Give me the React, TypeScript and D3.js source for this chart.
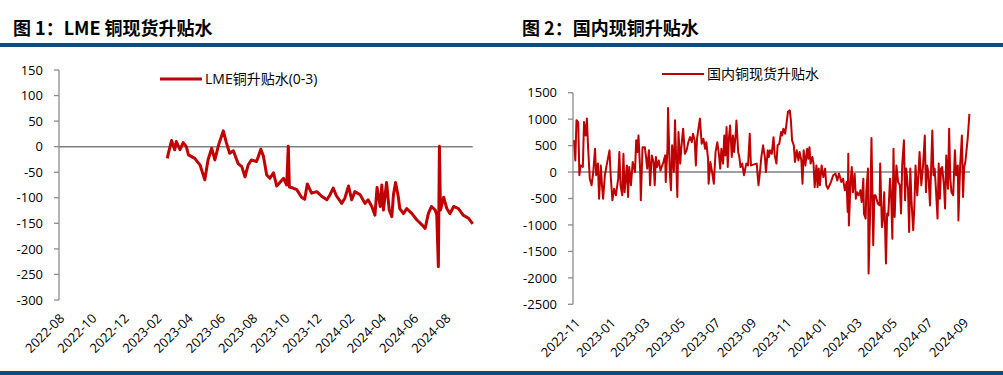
import React, { useEffect, useRef } from 'react';
import * as d3 from 'd3';

// 图1 LME铜升贴水(0-3)
const lmeDates = [
  '2023-02-22', '2023-02-24', '2023-03-02', '2023-03-08', '2023-03-11', '2023-03-18', '2023-03-24', '2023-03-30',
  '2023-04-03', '2023-04-15', '2023-04-25', '2023-05-04', '2023-05-10', '2023-05-17', '2023-05-23', '2023-05-30',
  '2023-06-08', '2023-06-14', '2023-06-20', '2023-06-27', '2023-07-06', '2023-07-13', '2023-07-19', '2023-07-25',
  '2023-07-31', '2023-08-10', '2023-08-18', '2023-08-23', '2023-08-29', '2023-09-04', '2023-09-11', '2023-09-17',
  '2023-09-23', '2023-09-30', '2023-10-06', '2023-10-09', '2023-10-11', '2023-10-18', '2023-10-25', '2023-11-03',
  '2023-11-09', '2023-11-14', '2023-11-22', '2023-12-02', '2023-12-11', '2023-12-21', '2023-12-27', '2024-01-02',
  '2024-01-08', '2024-01-18', '2024-01-24', '2024-01-31', '2024-02-06', '2024-02-12', '2024-02-22', '2024-03-02',
  '2024-03-08', '2024-03-15', '2024-03-21', '2024-03-25', '2024-03-31', '2024-04-03', '2024-04-06', '2024-04-12',
  '2024-04-17', '2024-04-22', '2024-04-25', '2024-04-29', '2024-05-04', '2024-05-07', '2024-05-14', '2024-05-20',
  '2024-05-30', '2024-06-08', '2024-06-18', '2024-06-24', '2024-06-30', '2024-07-06', '2024-07-13', '2024-07-16',
  '2024-07-19', '2024-07-21', '2024-07-23', '2024-07-29', '2024-08-04', '2024-08-10', '2024-08-17', '2024-08-26',
  '2024-09-04', '2024-09-14', '2024-09-22',
];
const lmeValues = [
  -23, -13, 12, -6, 10, -6, 8, 0,
  -16, -23, -36, -65, -26, -3, -26, 3,
  31, 7, -13, -8, -33, -39, -59, -36,
  -26, -29, -5, -19, -55, -62, -51, -77,
  -70, -62, -75, 1, -79, -81, -84, -99,
  -103, -73, -91, -88, -97, -104, -94, -81,
  -96, -111, -101, -77, -104, -88, -94, -111,
  -104, -117, -134, -80, -117, -75, -124, -70,
  -124, -137, -94, -70, -97, -121, -131, -121,
  -131, -143, -153, -160, -131, -117, -124, -134,
  -235, 1, -124, -99, -121, -131, -117, -121,
  -134, -140, -151,
];
const lmeTicks = ['2022-08', '2022-10', '2022-12', '2023-02', '2023-04', '2023-06', '2023-08', '2023-10', '2023-12', '2024-02', '2024-04', '2024-06', '2024-08'];
const lmeYTicks = [150, 100, 50, 0, -50, -100, -150, -200, -250, -300];

// 图2 国内现铜升贴水 (days counted from cnStart)
const cnStart = '2022-10-29';
const cnDays = [
  2, 4, 6, 9, 11, 13, 17, 19, 22, 24, 26, 29, 32, 35, 38, 40, 43, 45, 48, 50, 52, 55, 58, 63, 65, 68, 71, 74, 78, 80,
  82, 85, 87, 89, 93, 95, 97, 100, 103, 107, 109, 111, 113, 116, 117, 120, 124, 126, 128, 131, 133, 136, 139, 141, 143,
  145, 148, 151, 156, 159, 160, 163, 164, 167, 169, 171, 174, 176, 179, 180, 182, 185, 187, 190, 193, 196, 199, 202, 205,
  207, 210, 212, 214, 216, 219, 222, 225, 228, 230, 233,
  234, 237, 240, 243, 246, 249, 252, 254, 256, 259, 261, 263, 265, 267, 269, 271, 274, 276, 278, 281, 282, 285, 287, 289,
  292, 295, 299, 302, 305, 307, 311, 317, 320, 322, 325, 328, 331, 333, 336, 338, 340, 343, 346, 348, 351, 353, 356, 359,
  361, 363, 366, 368, 371, 374, 376, 378, 381, 383, 386, 389, 391, 394, 396, 398, 401, 404, 406, 408, 410, 413, 415, 417,
  420, 422, 424, 426, 429, 432, 435, 437, 440, 445, 449, 453, 456, 459,
  463, 466, 469, 472, 474, 475, 476, 479, 481, 483, 486, 488, 490, 493, 496, 498, 501, 502, 505, 506, 509, 510, 513, 515,
  518, 520, 522, 526, 529, 530, 533, 535, 537, 540, 542, 544, 547, 549, 551, 553, 555, 558, 561, 564, 566, 568, 571, 573,
  575, 578, 580, 582, 584, 587, 589, 591, 594, 596, 598, 601, 604, 607, 609, 611, 613, 616, 618, 620, 622, 624, 626, 629,
  631, 633, 635, 637, 640, 642, 644, 647, 649, 651, 653, 656, 659, 661, 664, 665, 668, 671, 673, 675, 677, 681, 684,
];
const cnValues = [
  600, 220, 980, 945, -60, 125, 95, 945, 690, 1010, 470, -125, -250, 0, 440, -60, 160, -505, 125, -250, -505, -60, 125, 410, -60, -535, -315, -440, -125, 380,
  -250, -440, 345, -380, 125, -470, 95, -250, 190, 0, 600, 380, 690, 0, -535, 470, 470, 285, 65, 410, -250, 315, 190, -250, 285,
  95, 220, 30, 190, 315, -190, 440, 1210, 0, -345, 505, 0, 980, -125, -470, 755, 160, 470, 820, 345, 410, 565, 660, 565,
  725, 600, 125, 630, 785, 1010, 535, 630, 440, 565, 250,
  -220, 190, 0, -220, 380, 565, 315, 65, 440, 160, 690, 315, 850, 95, 630, 880, 285, 690, 380, 755, 975, 380, 285, 95,
  160, -60, 160, 125, 725, 125, 140, 160, -250, -60, 285, 505, 285, 0, 410, 285, 410, 345, 660, 315, 160, 505, 535, 755,
  690, 820, 725, 880, 1145, 1165, 975, 600, 505, 190, 410, 220, 380, 220, -220, 410, 125, 440, 250, 470, 160, 285, 160, -285,
  125, -285, 65, -250, 125, -95, 65, -250, -315, -190, -60, -30, -160, -30,
  -190, -125, -345, -190, -755, 345, -1010, -190, 95, -380, -30, -505, -380, -440, -345, -565, -125, -785, -880, -380, 65, -1920, -630, 645,
  -1385, -440, -440, -600, -630, 160, -1040, -880, -380, -1730, -785, -820, -125, -470, -1260, 440, -850, 125, -190, -250, -785, 125, 600, -535,
  65, -315, -1135, 65, -535, -1100, -660, 125, -440, -60, 380, -250, 125, 690, -380, 125, 0, -630, 95, 785, -60, 65, -285, -880,
  160, -505, 65, 95, -250, -690, 315, -315, 820, -125, -380, -440, 410, -60, 125, -915, 125, 690, -470, 95, 190, 630, 1100,
];
const cnTicks = ['2022-11', '2023-01', '2023-03', '2023-05', '2023-07', '2023-09', '2023-11', '2024-01', '2024-03', '2024-05', '2024-07', '2024-09'];
const cnYTicks = [1500, 1000, 500, 0, -500, -1000, -1500, -2000, -2500];

const RED = '#c00000';
const GRAY = '#8c8c8c';
const TICK_FONT = '"Open Sans", "Noto Sans CJK SC", sans-serif';
const parseDay = d3.timeParse('%Y-%m-%d');
const parseMonth = d3.timeParse('%Y-%m');

const drawPanel = (svg, p) => {
  const x = d3.scaleTime().domain(p.xDomain).range([p.x0, p.x1]);
  const y = d3.scaleLinear().domain([p.yTicks[0], p.yTicks[p.yTicks.length - 1]]).range([p.yTop, p.yBottom]);
  const g = svg.append('g');

  g.append('text')
    .attr('x', p.titleX).attr('y', 35)
    .attr('font-family', '"Noto Sans CJK SC", sans-serif')
    .attr('font-weight', 'bold').attr('font-size', 18)
    .text(p.title);

  // y axis
  g.append('line')
    .attr('x1', p.x0).attr('x2', p.x0)
    .attr('y1', y(p.yTicks[0])).attr('y2', y(p.yTicks[p.yTicks.length - 1]))
    .attr('stroke', GRAY).attr('stroke-width', 1.3);
  g.selectAll('.ytick').data(p.yTicks).enter().append('line')
    .attr('x1', p.x0 - 5).attr('x2', p.x0)
    .attr('y1', d => y(d)).attr('y2', d => y(d))
    .attr('stroke', GRAY).attr('stroke-width', 1.3);
  g.selectAll('.ylabel').data(p.yTicks).enter().append('text')
    .attr('x', p.x0 - 16).attr('y', d => y(d)).attr('dy', '0.36em')
    .attr('text-anchor', 'end')
    .attr('font-family', TICK_FONT).attr('font-size', 13)
    .text(d => d);

  // zero line
  g.append('line')
    .attr('x1', p.x0).attr('x2', p.x1)
    .attr('y1', y(0)).attr('y2', y(0))
    .attr('stroke', '#808080').attr('stroke-width', 1.5);

  // x labels
  g.selectAll('.xlabel').data(p.xTicks).enter().append('text')
    .attr('transform', d => `translate(${x(parseMonth(d)) + 3},${p.yBottom + 16}) rotate(-45)`)
    .attr('text-anchor', 'end').attr('dy', '0.36em')
    .attr('font-family', TICK_FONT).attr('font-size', 13)
    .text(d => d);

  const line = d3.line().x(d => x(d[0])).y(d => y(d[1]));
  g.append('path')
    .datum(p.dates.map((d, i) => [d, p.values[i]]))
    .attr('d', line)
    .attr('fill', 'none').attr('stroke', RED)
    .attr('stroke-width', p.strokeWidth).attr('stroke-linejoin', 'round');

  // legend
  g.append('line')
    .attr('x1', p.legendX).attr('x2', p.legendX + 42)
    .attr('y1', p.legendY).attr('y2', p.legendY)
    .attr('stroke', RED).attr('stroke-width', p.strokeWidth);
  g.append('text')
    .attr('x', p.legendX + 45).attr('y', p.legendY).attr('dy', '0.36em')
    .attr('font-family', TICK_FONT).attr('font-size', 14)
    .text(p.legend);
};

const App = () => {
  const svgRef = useRef(null);

  useEffect(() => {
    svgRef.current.innerHTML = '';
    const svg = d3.select(svgRef.current);

    svg.append('rect').attr('x', 0).attr('y', 43).attr('width', 1003).attr('height', 4).attr('fill', '#114d7c');
    svg.append('rect').attr('x', 0).attr('y', 371).attr('width', 1003).attr('height', 4).attr('fill', '#114d7c');

    drawPanel(svg, {
      title: '图 1：LME 铜现货升贴水', titleX: 13,
      legend: 'LME铜升贴水(0-3)', legendX: 160, legendY: 79,
      x0: 59, x1: 472.7, yTop: 70, yBottom: 300,
      xDomain: [parseDay('2022-08-01'), parseDay('2024-09-22')],
      dates: lmeDates.map(parseDay), values: lmeValues,
      xTicks: lmeTicks, yTicks: lmeYTicks, strokeWidth: 3,
    });

    const base = parseDay(cnStart);
    drawPanel(svg, {
      title: '图 2：国内现铜升贴水', titleX: 522,
      legend: '国内铜现货升贴水', legendX: 662, legendY: 74,
      x0: 573, x1: 970, yTop: 92.7, yBottom: 304.3,
      xDomain: [base, d3.timeDay.offset(base, 685)],
      dates: cnDays.map(d => d3.timeDay.offset(base, d)), values: cnValues,
      xTicks: cnTicks, yTicks: cnYTicks, strokeWidth: 2,
    });
  }, []);

  return (
    <svg ref={svgRef} width={1003} height={375} style={{ position: 'absolute', left: 0, top: 0, background: '#fff' }}></svg>
  );
};

export default App;
